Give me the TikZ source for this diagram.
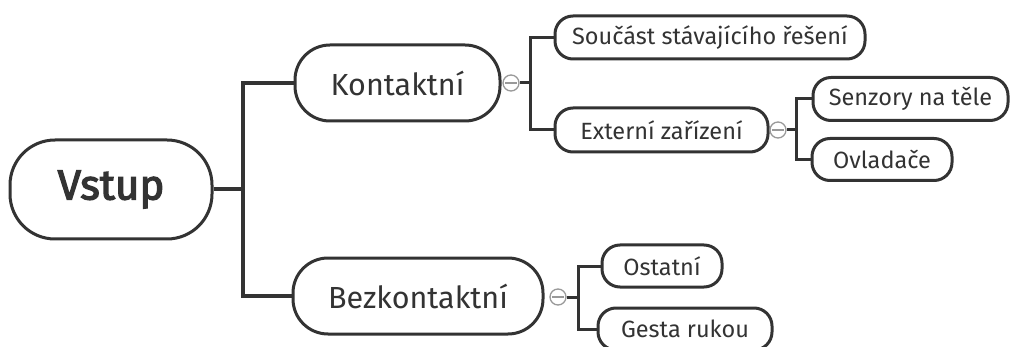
\documentclass[tikz,border=0pt]{standalone}
\usepackage{fontspec}
\setmainfont{Fira Sans}
\usetikzlibrary{positioning}
\definecolor{ink}{HTML}{333333}
\definecolor{knob}{HTML}{999999}
\tikzset{
  topic/.style={draw=ink, line width=3pt, fill=white, text=ink, rounded corners=#1, inner sep=0pt},
  rootfont/.style={font=\fontsize{42}{46}\selectfont\addfontfeatures{FakeBold=3}},
  mainfont/.style={font=\fontsize{30.5}{34}\selectfont},
  subfont/.style={font=\fontsize{23.5}{27}\selectfont},
  link/.style={draw=ink, line width=4pt},
  sublink/.style={draw=ink, line width=3pt},
  knobc/.style={circle, draw=knob, line width=1.3pt, fill=white, minimum size=16pt, inner sep=0pt,
    path picture={\draw[knob, line width=1.2pt] ([xshift=-6pt]path picture bounding box.center) -- ([xshift=6pt]path picture bounding box.center);}},
}
\begin{document}
\begin{tikzpicture}[x=1pt, y=-1pt]
\useasboundingbox (0,0) rectangle (1011,347);
% nodes
\node[topic=45pt, rootfont, minimum width=202pt, minimum height=99pt] (root) at (111,189.5) {Vstup};
\node[topic=35pt, mainfont, minimum width=205pt, minimum height=76pt] (k) at (397.5,83) {Kontaktní};
\node[topic=35pt, mainfont, minimum width=250pt, minimum height=76pt] (b) at (418,296) {Bezkontaktní};
\node[topic=18pt, subfont, minimum width=310pt, minimum height=43pt] (k1) at (710,37.5) {Součást stávajícího řešení};
\node[topic=18pt, subfont, minimum width=213pt, minimum height=44pt] (k2) at (661.5,130) {Externí zařízení};
\node[topic=18pt, subfont, minimum width=195pt, minimum height=43pt] (k2a) at (910.5,99) {Senzory na těle};
\node[topic=18pt, subfont, minimum width=140pt, minimum height=42pt] (k2b) at (882,159.5) {Ovladače};
\node[topic=18pt, subfont, minimum width=120pt, minimum height=42pt] (b1) at (662,266) {Ostatní};
\node[topic=18pt, subfont, minimum width=174pt, minimum height=42pt] (b2) at (685,329) {Gesta rukou};
% collapse knobs
\node[knobc] (ck) at (511,83) {};
\node[knobc] (ck2) at (778,130) {};
\node[knobc] (cb) at (558,297) {};
% junctions
\coordinate (j0) at (243,189.5);
\coordinate (j1) at (530,83);
\coordinate (j2) at (796,130);
\coordinate (j3) at (578,297);
% connectors
\draw[link] (root.east) -- (j0);
\draw[link] (j0) |- (k.west);
\draw[link] (j0) |- (b.west);
\draw[sublink] (ck.east) -- (j1);
\draw[sublink] (j1) |- (k1.west);
\draw[sublink] (j1) |- (k2.west);
\draw[sublink] (ck2.east) -- (j2);
\draw[sublink] (j2) |- (k2a.west);
\draw[sublink] (j2) |- (k2b.west);
\draw[sublink] (cb.east) -- (j3);
\draw[sublink] (j3) |- (b1.west);
\draw[sublink] (j3) |- (b2.west);
\end{tikzpicture}
\end{document}
